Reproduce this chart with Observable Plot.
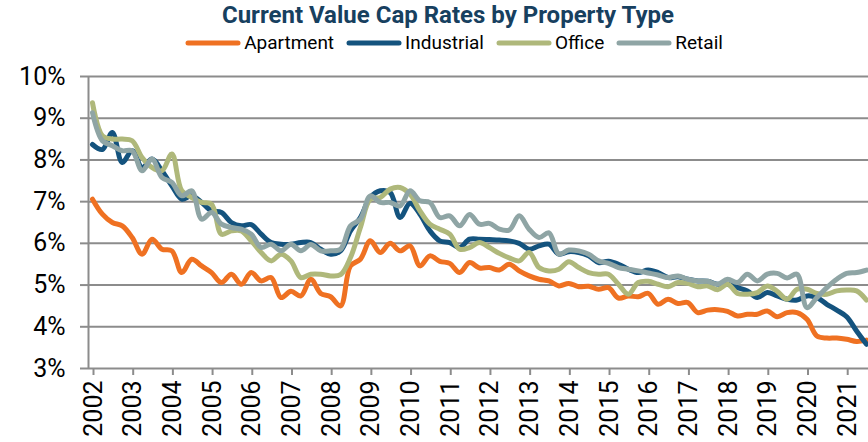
<!DOCTYPE html>
<html>
<head>
<meta charset="utf-8">
<script src="https://cdn.jsdelivr.net/npm/d3@7"></script>
<script src="https://cdn.jsdelivr.net/npm/@observablehq/plot@0.6"></script>
<style>
  html, body { margin: 0; padding: 0; background: #fff; }
  #wrap { width: 868px; height: 442px; position: relative; overflow: hidden; font-family: Roboto, "Noto Sans", sans-serif; }
  #title { position: absolute; top: 1px; left: 14px; width: 868px; text-align: center; font-weight: bold; font-size: 24px; color: #17405f; line-height: 28px; }
  #legend { position: absolute; top: 32px; left: 20px; width: 868px; display: flex; justify-content: center; align-items: center; font-size: 19px; color: #000; line-height: 22px; }
  .item { display: flex; align-items: center; margin: 0 6px; }
  .item svg { margin-right: 3px; }
  #chart { position: absolute; top: 56px; left: 0; }
</style>
</head>
<body>
<div id="wrap">
  <div id="title">Current Value Cap Rates by Property Type</div>
  <div id="legend"></div>
  <div id="chart"></div>
</div>
<script>
const seriesNames = ["Apartment", "Industrial", "Office", "Retail"];
const seriesColors = ["#ef7122", "#14537e", "#afb87b", "#8fa5a5"];

const quarters = [
  "2002Q1","2002Q2","2002Q3","2002Q4","2003Q1","2003Q2","2003Q3","2003Q4",
  "2004Q1","2004Q2","2004Q3","2004Q4","2005Q1","2005Q2","2005Q3","2005Q4",
  "2006Q1","2006Q2","2006Q3","2006Q4","2007Q1","2007Q2","2007Q3","2007Q4",
  "2008Q1","2008Q2","2008Q3","2008Q4","2009Q1","2009Q2","2009Q3","2009Q4",
  "2010Q1","2010Q2","2010Q3","2010Q4","2011Q1","2011Q2","2011Q3","2011Q4",
  "2012Q1","2012Q2","2012Q3","2012Q4","2013Q1","2013Q2","2013Q3","2013Q4",
  "2014Q1","2014Q2","2014Q3","2014Q4","2015Q1","2015Q2","2015Q3","2015Q4",
  "2016Q1","2016Q2","2016Q3","2016Q4","2017Q1","2017Q2","2017Q3","2017Q4",
  "2018Q1","2018Q2","2018Q3","2018Q4","2019Q1","2019Q2","2019Q3","2019Q4",
  "2020Q1","2020Q2","2020Q3","2020Q4","2021Q1","2021Q2","2021Q3"
];

const apartment = [
  7.06,6.70,6.50,6.42,6.14,5.74,6.10,5.86,
  5.82,5.30,5.62,5.46,5.30,5.06,5.26,5.02,
  5.30,5.10,5.18,4.70,4.85,4.74,5.14,4.80,
  4.72,4.50,5.46,5.62,6.06,5.78,6.00,5.82,
  5.94,5.46,5.70,5.57,5.52,5.30,5.54,5.41,
  5.42,5.36,5.50,5.34,5.22,5.14,5.10,4.98,
  5.04,4.96,4.97,4.90,4.94,4.69,4.74,4.72,
  4.80,4.54,4.66,4.56,4.58,4.34,4.40,4.41,
  4.37,4.26,4.30,4.30,4.38,4.24,4.34,4.34,
  4.18,3.78,3.73,3.73,3.70,3.65,3.68
];
const industrial = [
  8.37,8.25,8.66,7.94,8.22,7.82,8.02,7.74,
  7.38,7.06,7.14,6.98,6.78,6.74,6.50,6.42,
  6.45,6.22,6.02,5.98,5.98,6.02,6.02,5.86,
  5.74,5.82,6.30,6.62,7.10,7.26,7.22,6.62,
  6.96,6.70,6.30,6.06,6.02,5.90,6.10,6.10,
  6.09,6.08,6.06,6.00,5.86,5.94,5.98,5.74,
  5.80,5.78,5.70,5.54,5.57,5.50,5.38,5.30,
  5.36,5.30,5.18,5.20,5.14,5.10,5.09,5.02,
  5.02,4.94,4.86,4.70,4.82,4.74,4.66,4.64,
  4.74,4.70,4.54,4.40,4.24,3.90,3.58
];
const office = [
  9.37,8.58,8.50,8.50,8.46,8.06,7.82,7.74,
  8.14,7.26,7.10,6.98,6.94,6.22,6.30,6.30,
  6.06,5.78,5.58,5.74,5.58,5.18,5.26,5.26,
  5.22,5.25,5.66,6.38,7.06,7.10,7.30,7.34,
  7.18,6.78,6.46,6.34,6.22,5.86,5.90,6.02,
  5.90,5.76,5.65,5.58,5.78,5.42,5.34,5.38,
  5.56,5.42,5.30,5.26,5.26,5.02,4.78,5.06,
  5.09,5.02,4.96,5.06,5.04,4.96,4.98,4.89,
  5.02,4.80,4.78,4.82,4.98,4.85,4.66,4.90,
  4.90,4.80,4.78,4.86,4.88,4.86,4.64
];
const retail = [
  9.13,8.46,8.34,8.22,8.22,7.74,8.02,7.58,
  7.46,7.14,7.26,6.58,6.74,6.46,6.38,6.34,
  6.22,5.90,5.98,5.82,5.98,5.82,5.97,5.82,
  5.82,5.86,6.42,6.58,7.14,6.98,6.98,6.90,
  7.26,7.02,6.98,6.62,6.66,6.42,6.69,6.46,
  6.48,6.34,6.32,6.66,6.34,6.14,6.25,5.74,
  5.84,5.82,5.74,5.58,5.52,5.42,5.38,5.34,
  5.29,5.24,5.18,5.22,5.14,5.10,5.09,5.02,
  5.14,5.06,5.26,5.10,5.26,5.28,5.17,5.26,
  4.46,4.70,4.94,5.14,5.28,5.30,5.36
];

const yTicks = [3, 4, 5, 6, 7, 8, 9, 10];
const yearTicks = [2002,2003,2004,2005,2006,2007,2008,2009,2010,2011,2012,2013,2014,2015,2016,2017,2018,2019,2020,2021];

// legend
const legend = document.getElementById("legend");
seriesNames.forEach((name, i) => {
  const item = document.createElement("div");
  item.className = "item";
  item.innerHTML = `<svg width="56" height="10"><line x1="3" y1="5" x2="53" y2="5" stroke="${seriesColors[i]}" stroke-width="5" stroke-linecap="round"/></svg><span>${name}</span>`;
  legend.appendChild(item);
});

const valuesBySeries = [apartment, industrial, office, retail];
const rows = [];
seriesNames.forEach((name, s) => {
  quarters.forEach((q, i) => {
    const yr = +q.slice(0, 4), qn = +q.slice(5);
    rows.push({series: name, t: yr + (qn - 1) / 4 + 0.1, value: valuesBySeries[s][i]});
  });
});

const chart = Plot.plot({
  width: 868,
  height: 386,
  marginLeft: 88,
  marginRight: 0,
  marginTop: 20,
  marginBottom: 74,
  style: {fontFamily: "Roboto, sans-serif", background: "#fff", overflow: "visible"},
  x: {type: "linear", domain: [2002, 2021.65]},
  y: {domain: [3, 10]},
  color: {domain: seriesNames, range: seriesColors},
  marks: [
    Plot.ruleY(yTicks, {stroke: "#8c8c8c", strokeWidth: 2}),
    Plot.ruleX([2002], {stroke: "#8c8c8c", strokeWidth: 2}),
    Plot.axisY({ticks: yTicks, tickFormat: d => d + "%", tickSize: 8, tickPadding: 15, stroke: "#8c8c8c", strokeWidth: 2, fill: "#000", fontSize: 25, label: null}),
    Plot.axisX({ticks: yearTicks, tickFormat: d => String(d), tickRotate: -90, tickSize: 7, tickPadding: 5, stroke: "#8c8c8c", strokeWidth: 2, fill: "#000", fontSize: 25, dx: 5, label: null}),
    Plot.line(rows, {x: "t", y: "value", z: "series", stroke: "series", strokeWidth: 5, curve: "catmull-rom", strokeLinecap: "round", strokeLinejoin: "round"})
  ]
});
document.getElementById("chart").appendChild(chart);
</script>
</body>
</html>
